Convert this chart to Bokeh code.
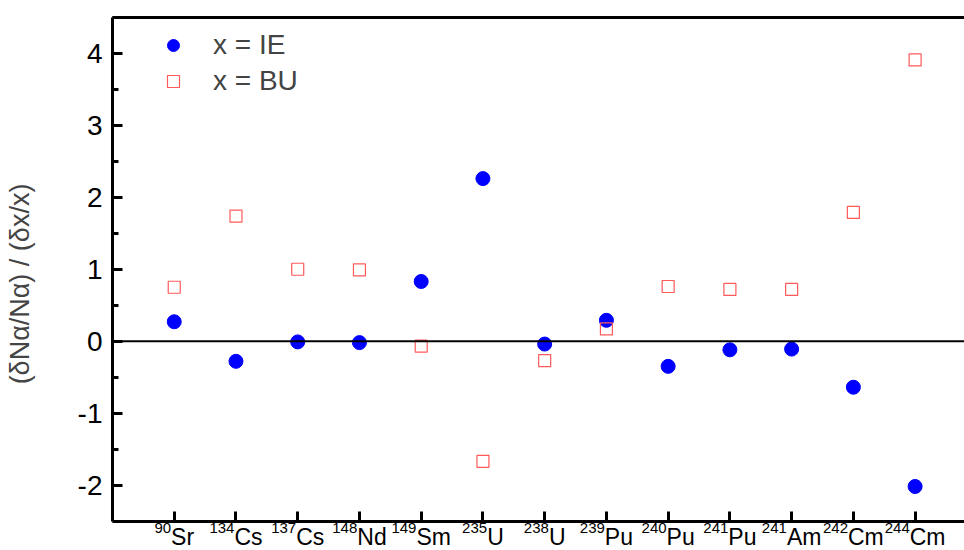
from bokeh.plotting import figure
from bokeh.models import Span, FixedTicker, LinearAxis, Legend, LegendItem, Range1d, ColumnDataSource
from bokeh.core.properties import value
from bokeh.embed import file_html
from bokeh.resources import INLINE

mass_numbers = ["90", "134", "137", "148", "149", "235", "238", "239", "240", "241", "241", "242", "244"]
elements = ["Sr", "Cs", "Cs", "Nd", "Sm", "U", "U", "Pu", "Pu", "Pu", "Am", "Cm", "Cm"]
ie_values = [0.27, -0.28, -0.01, -0.02, 0.83, 2.26, -0.04, 0.29, -0.35, -0.12, -0.11, -0.64, -2.02]
bu_values = [0.75, 1.74, 1.00, 0.99, -0.07, -1.67, -0.27, 0.17, 0.76, 0.72, 0.72, 1.79, 3.91]
y_ticks = [-2, -1, 0, 1, 2, 3, 4]

xs = list(range(1, len(elements) + 1))

FONT = "Liberation Sans"
SUP_SIZE = 15
EL_SIZE = 23
Y_AXIS_BOTTOM = -2.5
Y_TOP = 4.5
# approximate advance widths (em) of Liberation Sans glyphs, for centring the two-part labels
ADV = {"S": .667, "r": .333, "C": .722, "s": .5, "N": .722, "d": .556, "m": .833,
       "U": .722, "P": .667, "u": .556, "A": .667}

# frame reaches the bottom of the page so that the nuclide labels below the axis are drawn inside it
p = figure(width=964, height=550, output_backend="svg", toolbar_location=None,
           x_range=Range1d(0, 13.8), y_range=Range1d(-2.91, Y_TOP),
           min_border_left=112, min_border_right=0, min_border_top=17, min_border_bottom=0)
p.outline_line_color = None
p.grid.visible = False
p.background_fill_color = "white"
p.border_fill_color = "white"

xa = p.xaxis[0]
xa.fixed_location = Y_AXIS_BOTTOM
xa.ticker = FixedTicker(ticks=xs)
xa.major_label_overrides = {x: "" for x in xs}
xa.major_label_text_font_size = "0px"
xa.major_label_standoff = 0
xa.axis_line_width = 3
xa.major_tick_line_width = 3
xa.major_tick_in = 10
xa.major_tick_out = 0
xa.minor_tick_line_color = None

ya = p.yaxis[0]
ya.bounds = (Y_AXIS_BOTTOM, Y_TOP)
ya.ticker = FixedTicker(ticks=y_ticks, minor_ticks=[-2.5, -1.5, -0.5, 0.5, 1.5, 2.5, 3.5, 4.5])
ya.major_label_overrides = {t: str(t) for t in y_ticks}
ya.axis_line_width = 3
ya.major_tick_line_width = 3
ya.minor_tick_line_width = 3
ya.major_tick_in = 10
ya.major_tick_out = 0
ya.minor_tick_in = 6
ya.minor_tick_out = 0
ya.major_label_text_font = FONT
ya.major_label_text_font_size = "28px"
ya.major_label_standoff = 10
ya.major_label_text_color = "black"
ya.axis_label = "(δNα/Nα) / (δx/x)"
ya.axis_label_text_font = FONT
ya.axis_label_text_font_size = "27px"
ya.axis_label_text_font_style = "normal"
ya.axis_label_standoff = 40

top = LinearAxis(ticker=FixedTicker(ticks=[]), axis_line_width=3,
                 major_tick_line_color=None, minor_tick_line_color=None,
                 major_label_text_font_size="0px")
p.add_layout(top, "above")

p.add_layout(Span(location=0, dimension="width", line_color="black", line_width=2))

r_ie = p.scatter(xs, ie_values, marker="circle", size=14, fill_color="#0000ff", line_color="#0000ff")
r_bu = p.scatter(xs, bu_values, marker="square", size=12, fill_color=None, line_color="#ff5a5a", line_width=1.2)

# nuclide labels: superscript mass number + element symbol, centred together on each tick
splits = []
for m, e in zip(mass_numbers, elements):
    sup_w = len(m) * 0.556 * SUP_SIZE
    el_w = sum(ADV[c] for c in e) * EL_SIZE
    splits.append((sup_w - el_w) / 2.0)
lab = ColumnDataSource(dict(x=xs, y=[Y_AXIS_BOTTOM] * len(xs), mass=mass_numbers,
                            el=elements, off=splits))
p.text(x="x", y="y", text="mass", x_offset="off", y_offset=2, source=lab,
       text_font=value(FONT), text_font_size=f"{SUP_SIZE}px",
       text_align="right", text_baseline="top", text_color="black")
p.text(x="x", y="y", text="el", x_offset="off", y_offset=3, source=lab,
       text_font=value(FONT), text_font_size=f"{EL_SIZE}px",
       text_align="left", text_baseline="top", text_color="black")

legend = Legend(items=[LegendItem(label="x = IE", renderers=[r_ie]),
                       LegendItem(label="x = BU", renderers=[r_bu])],
                location=(41, 453), padding=5, margin=0, spacing=4,
                glyph_width=40, glyph_height=30, label_height=30, label_standoff=20,
                label_text_font=FONT, label_text_font_size="28px",
                background_fill_alpha=0, border_line_color=None)
p.add_layout(legend)

open("out.html", "w").write(file_html(p, INLINE))
